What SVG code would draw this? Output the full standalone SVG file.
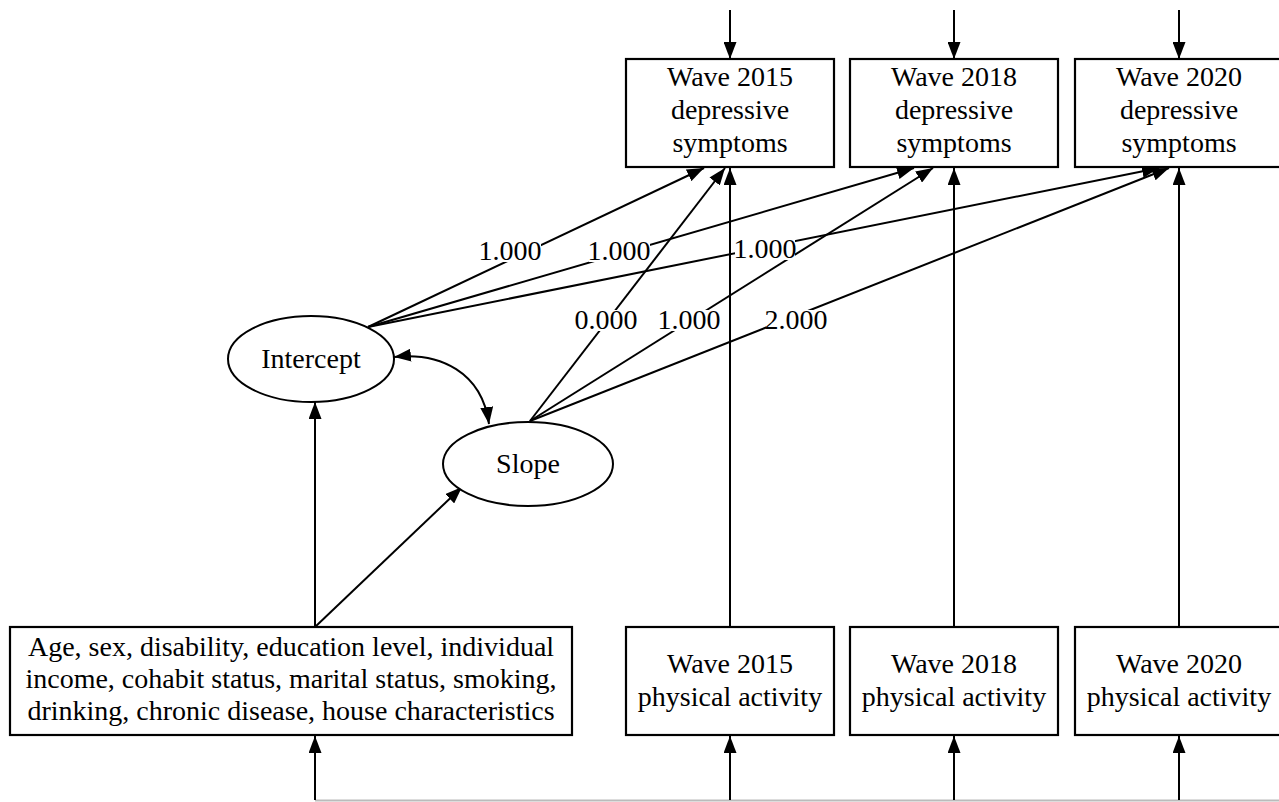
<svg xmlns="http://www.w3.org/2000/svg" width="1279" height="802" viewBox="0 0 1279 802">
<style>
text{font-family:"Liberation Serif","Times New Roman",serif;font-size:28px;fill:#000;text-anchor:middle}
.box{fill:#fff;stroke:#000;stroke-width:2.2}
.ell{fill:#fff;stroke:#000;stroke-width:2}
.c{fill:none;stroke:#000;stroke-width:2}
.lbg{fill:#fff;stroke:none}
</style>
<defs>
<marker id="ah" markerUnits="userSpaceOnUse" markerWidth="17" markerHeight="13" viewBox="0 0 17 13" refX="17" refY="6.5" orient="auto-start-reverse">
<path d="M0,0 L17,6.5 L0,13 Z" fill="#000"/>
</marker>
</defs>
<rect width="1279" height="802" fill="#fff"/>
<g id="connectors">
<line x1="315" y1="800.5" x2="1279" y2="800.5" stroke="#bbb" stroke-width="2"/>
<line class="c" x1="730" y1="10" x2="730" y2="59" marker-end="url(#ah)"/>
<line class="c" x1="954" y1="10" x2="954" y2="59" marker-end="url(#ah)"/>
<line class="c" x1="1179" y1="10" x2="1179" y2="59" marker-end="url(#ah)"/>
<line class="c" x1="315" y1="800" x2="315" y2="736" marker-end="url(#ah)"/>
<line class="c" x1="730" y1="800" x2="730" y2="736" marker-end="url(#ah)"/>
<line class="c" x1="954" y1="800" x2="954" y2="736" marker-end="url(#ah)"/>
<line class="c" x1="1179" y1="800" x2="1179" y2="736" marker-end="url(#ah)"/>
<line class="c" x1="730" y1="627" x2="730" y2="168" marker-end="url(#ah)"/>
<line class="c" x1="954" y1="627" x2="954" y2="168" marker-end="url(#ah)"/>
<line class="c" x1="1179" y1="627" x2="1179" y2="168" marker-end="url(#ah)"/>
<line class="c" x1="315" y1="627" x2="315" y2="402" marker-end="url(#ah)"/>
<line class="c" x1="315" y1="627" x2="462" y2="487" marker-end="url(#ah)"/>
<path class="c" d="M394,357 C440,352 482,372 489,424" marker-start="url(#ah)" marker-end="url(#ah)"/>
<line class="c" x1="368" y1="327" x2="704" y2="168" marker-end="url(#ah)"/>
<line class="c" x1="368" y1="327" x2="914" y2="168" marker-end="url(#ah)"/>
<line class="c" x1="368" y1="327" x2="1159" y2="168" marker-end="url(#ah)"/>
<line class="c" x1="530" y1="421" x2="725" y2="168" marker-end="url(#ah)"/>
<line class="c" x1="530" y1="421" x2="933" y2="168" marker-end="url(#ah)"/>
<line class="c" x1="530" y1="421" x2="1169" y2="168" marker-end="url(#ah)"/>
<g id="labels">
<rect class="lbg" x="480" y="241" width="61" height="21"/>
<text x="510" y="260">1.000</text>
<rect class="lbg" x="589" y="241" width="61" height="21"/>
<text x="619" y="260">1.000</text>
<rect class="lbg" x="735" y="239" width="60" height="21"/>
<text x="765" y="258">1.000</text>
<rect class="lbg" x="576" y="310" width="61" height="21"/>
<text x="606" y="329">0.000</text>
<rect class="lbg" x="659" y="310" width="61" height="21"/>
<text x="689" y="329">1.000</text>
<rect class="lbg" x="766" y="310" width="61" height="21"/>
<text x="796" y="329">2.000</text>
</g>
</g>
<g id="dep2015">
<rect class="box" x="626" y="59" width="208" height="108"/>
<text x="730" y="86">Wave 2015</text>
<text x="730" y="119">depressive</text>
<text x="730" y="152">symptoms</text>
</g>
<g id="dep2018">
<rect class="box" x="850" y="59" width="208" height="108"/>
<text x="954" y="86">Wave 2018</text>
<text x="954" y="119">depressive</text>
<text x="954" y="152">symptoms</text>
</g>
<g id="dep2020">
<rect class="box" x="1075" y="59" width="208" height="108"/>
<text x="1179" y="86">Wave 2020</text>
<text x="1179" y="119">depressive</text>
<text x="1179" y="152">symptoms</text>
</g>
<g id="intercept">
<ellipse class="ell" cx="311" cy="359" rx="83" ry="43"/>
<text x="311" y="368">Intercept</text>
</g>
<g id="slope">
<ellipse class="ell" cx="528" cy="464" rx="85" ry="42"/>
<text x="528" y="473">Slope</text>
</g>
<g id="covariates">
<rect class="box" x="10" y="627" width="562" height="108"/>
<text x="291" y="656" font-size="28.4">Age, sex, disability, education level, individual</text>
<text x="291" y="688" font-size="28.4">income, cohabit status, marital status, smoking,</text>
<text x="291" y="720" font-size="28.4">drinking, chronic disease, house characteristics</text>
</g>
<g id="pa2015">
<rect class="box" x="626" y="627" width="208" height="108"/>
<text x="730" y="673">Wave 2015</text>
<text x="730" y="706">physical activity</text>
</g>
<g id="pa2018">
<rect class="box" x="850" y="627" width="208" height="108"/>
<text x="954" y="673">Wave 2018</text>
<text x="954" y="706">physical activity</text>
</g>
<g id="pa2020">
<rect class="box" x="1075" y="627" width="208" height="108"/>
<text x="1179" y="673">Wave 2020</text>
<text x="1179" y="706">physical activity</text>
</g>
</svg>
